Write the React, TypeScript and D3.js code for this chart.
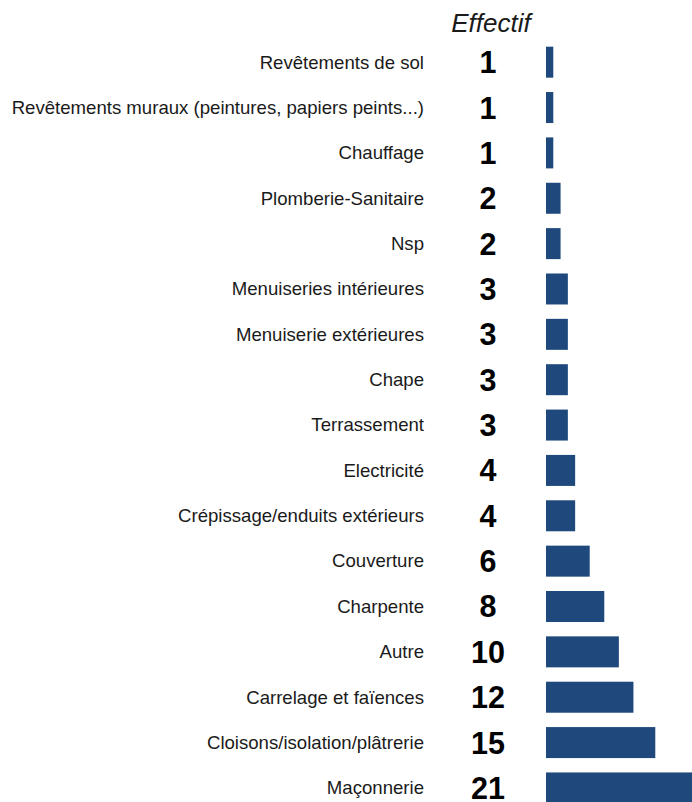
import { useEffect, useRef } from 'react';
import * as d3 from 'd3';

const categories = [
    'Revêtements de sol',
    'Revêtements muraux (peintures, papiers peints...)',
    'Chauffage',
    'Plomberie-Sanitaire',
    'Nsp',
    'Menuiseries intérieures',
    'Menuiserie extérieures',
    'Chape',
    'Terrassement',
    'Electricité',
    'Crépissage/enduits extérieurs',
    'Couverture',
    'Charpente',
    'Autre',
    'Carrelage et faïences',
    'Cloisons/isolation/plâtrerie',
    'Maçonnerie',
];
const values = [1, 1, 1, 2, 2, 3, 3, 3, 3, 4, 4, 6, 8, 10, 12, 15, 21];
const headerLabel = 'Effectif';

export default function App() {
    const svgRef = useRef<SVGSVGElement>(null);

    useEffect(() => {
        if (!svgRef.current) return;
        const width = 692;
        const height = 802;
        const font = 'Arial, "Liberation Sans", sans-serif';

        d3.select(svgRef.current).selectAll('*').remove();
        const svg = d3.select(svgRef.current)
            .attr('width', width)
            .attr('height', height);

        // Rows
        const step = 45.36;
        const y = d3.scaleBand<string>()
            .domain(categories)
            .range([39.5, 39.5 + step * categories.length])
            .paddingInner(14.36 / step)
            .paddingOuter(7.18 / step);

        // Bars (the longest one runs past the right edge, as in the source)
        const x = d3.scaleLinear()
            .domain([0, 21])
            .range([546, 699]);

        const rows = categories.map((c, i) => ({ c, v: values[i] }));

        svg.append('g')
            .selectAll('rect')
            .data(rows)
            .enter()
            .append('rect')
            .attr('x', x(0))
            .attr('y', d => y(d.c)!)
            .attr('width', d => x(d.v) - x(0))
            .attr('height', y.bandwidth())
            .attr('fill', '#1f497d');

        // Category labels
        svg.append('g')
            .selectAll('text')
            .data(rows)
            .enter()
            .append('text')
            .attr('x', 424)
            .attr('y', d => y(d.c)! + y.bandwidth() / 2)
            .attr('dy', '0.34em')
            .attr('text-anchor', 'end')
            .attr('font-family', font)
            .attr('font-size', '18.6px')
            .attr('fill', '#1a1a1a')
            .text(d => d.c);

        // Values
        svg.append('g')
            .selectAll('text')
            .data(rows)
            .enter()
            .append('text')
            .attr('x', 488)
            .attr('y', d => y(d.c)! + y.bandwidth() / 2)
            .attr('dy', '0.36em')
            .attr('text-anchor', 'middle')
            .attr('font-family', font)
            .attr('font-size', '30.5px')
            .attr('font-weight', 'bold')
            .attr('fill', '#000')
            .text(d => d.v);

        // Header
        svg.append('text')
            .attr('x', 491)
            .attr('y', 32)
            .attr('text-anchor', 'middle')
            .attr('font-family', font)
            .attr('font-size', '26px')
            .attr('font-style', 'italic')
            .attr('fill', '#1a1a1a')
            .text(headerLabel);
    }, []);

    return (
        <div style={{ position: 'fixed', left: 0, top: 0, width: 692, height: 802, overflow: 'hidden', background: '#fff' }}>
            <svg ref={svgRef} style={{ display: 'block' }} />
        </div>
    );
}
